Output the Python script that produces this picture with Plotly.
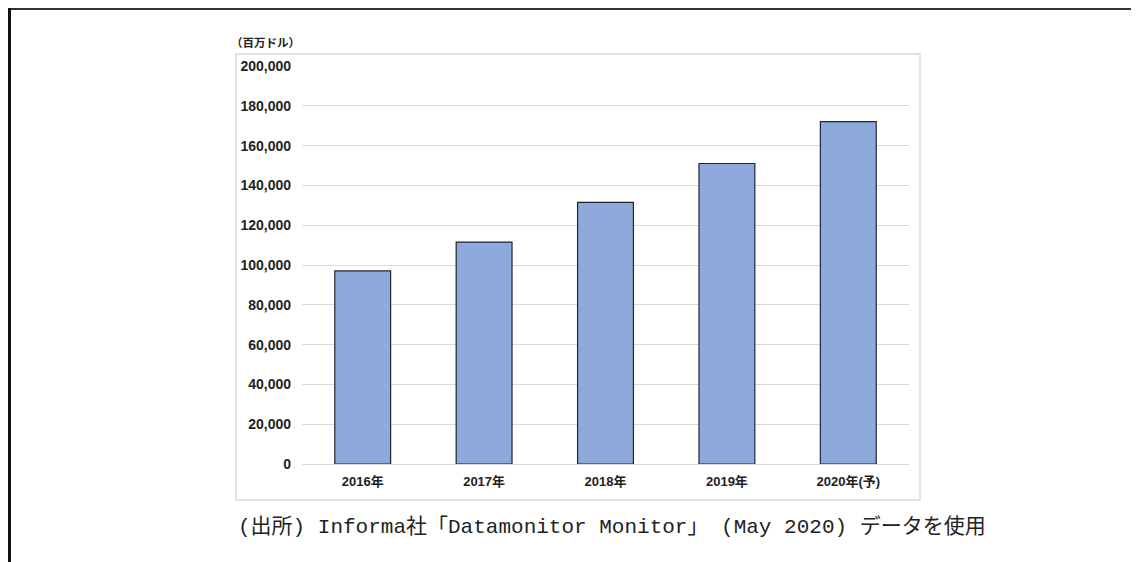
import plotly.graph_objects as go

categories = ["2016年", "2017年", "2018年", "2019年", "2020年(予)"]
values = [97000, 111500, 131500, 151000, 172000]
y_ticks = [0, 20000, 40000, 60000, 80000, 100000, 120000, 140000, 160000, 180000, 200000]
y_tick_text = ["0", "20,000", "40,000", "60,000", "80,000", "100,000", "120,000",
               "140,000", "160,000", "180,000", "200,000"]
unit_label = "（百万ドル）"
caption = "(出所) Informa社「Datamonitor Monitor」 (May 2020) データを使用"

# page body has an 8px margin; work in screen pixels and shift
OFF = 8
W, H = 1139 - OFF, 562 - OFF
L, R, T, B = 302, 909, 66, 464  # plot area, screen pixels


def px(x):
    return (x - L) / (R - L)


def py(y):
    return (B - y) / (B - T)


fig = go.Figure(go.Bar(
    x=categories, y=values,
    marker=dict(color="#8eaadc", line=dict(color="#1e2533", width=1.2)),
    width=0.46,
))

sans = "Liberation Sans, Arial, Noto Sans CJK JP"
fig.update_layout(
    width=W, height=H,
    margin=dict(l=L - OFF, r=W - (R - OFF), t=T - OFF, b=H - (B - OFF), pad=0),
    plot_bgcolor="white", paper_bgcolor="white",
    showlegend=False,
    font=dict(family=sans, color="#222222"),
    xaxis=dict(showgrid=False, showline=False, ticks="",
               tickfont=dict(family=sans, size=13, color="#222222", weight="bold"),
               ticklabelstandoff=8),
    yaxis=dict(range=[0, 200000], tickvals=y_ticks, ticktext=y_tick_text,
               showgrid=True, gridcolor="#d9d9d9", gridwidth=1,
               zeroline=True, zerolinecolor="#d9d9d9", zerolinewidth=1,
               showline=False, ticks="",
               tickfont=dict(family=sans, size=14, color="#222222", weight="bold"),
               ticklabelstandoff=10),
    shapes=[
        # chart box
        dict(type="rect", xref="paper", yref="paper",
             x0=px(236), x1=px(920), y0=py(500), y1=py(54),
             line=dict(color="#d9d9d9", width=1.5), fillcolor="rgba(0,0,0,0)", layer="below"),
        # outer frame
        dict(type="line", xref="paper", yref="paper",
             x0=px(9), x1=px(1137), y0=py(9), y1=py(9),
             line=dict(color="#333333", width=2)),
        dict(type="line", xref="paper", yref="paper",
             x0=px(9.5), x1=px(9.5), y0=py(8), y1=py(570),
             line=dict(color="#111111", width=3)),
        dict(type="line", xref="paper", yref="paper",
             x0=px(1136.5), x1=px(1136.5), y0=py(8), y1=py(570),
             line=dict(color="#111111", width=3)),
    ],
    annotations=[
        dict(text=unit_label, xref="paper", yref="paper", x=px(229), y=py(42.5),
             xanchor="left", yanchor="middle", showarrow=False,
             font=dict(family="Noto Sans CJK JP", size=11.5, color="#222222", weight="bold")),
        dict(text=caption, xref="paper", yref="paper", x=px(612), y=py(527),
             xanchor="center", yanchor="middle", showarrow=False,
             font=dict(family="Liberation Mono, Noto Sans CJK JP", size=21, color="#222222")),
    ],
)

fig.write_html("out.html")
